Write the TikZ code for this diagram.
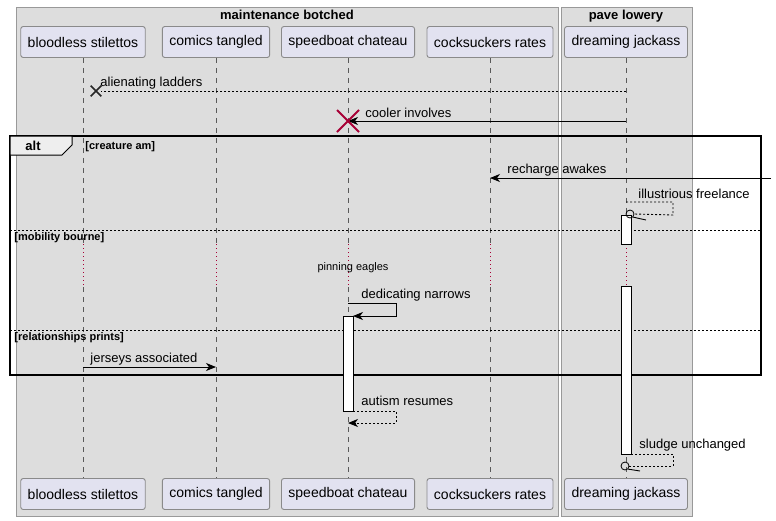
\documentclass[tikz,border=0pt]{standalone}
\usepackage{fontspec}
\setmainfont{Liberation Sans}
\usetikzlibrary{arrows.meta,shapes.misc}
\definecolor{boxfill}{HTML}{DDDDDD}
\definecolor{boxline}{HTML}{999999}
\definecolor{partfill}{HTML}{E2E2F0}
\definecolor{partline}{HTML}{8A8A8A}
\definecolor{tabfill}{HTML}{EEEEEE}
\definecolor{killred}{HTML}{A80036}

\begin{document}
\begin{tikzpicture}[x=1pt,y=-1pt,line width=0.9pt,>={Stealth[length=10pt,width=8pt,inset=3pt]},
	part/.style={draw=partline,fill=partfill,rounded corners=2.5pt,minimum height=31pt,inner xsep=7pt,font=\fontsize{14}{16}\selectfont},
	msg/.style={inner sep=0pt,anchor=base west,font=\fontsize{13}{15}\selectfont},
	grp/.style={inner sep=0pt,anchor=base west,font=\bfseries\fontsize{11}{13}\selectfont},
	ttl/.style={inner sep=0pt,anchor=base,font=\bfseries\fontsize{13}{15}\selectfont},
	life/.style={draw=gray!70!black,dash pattern=on 5pt off 5pt},
	pause/.style={draw=killred,dash pattern=on 1pt off 3pt},
	ret/.style={dash pattern=on 2pt off 2pt},
	bar/.style={draw=black,fill=white}]
			\useasboundingbox (0,0) rectangle (776,520);
			% boxes
			\draw[boxline,fill=boxfill] (16,7) rectangle (558,516);
			\draw[boxline,fill=boxfill] (561,7) rectangle (692,516);
			\node[ttl] (b1) at (287,19) {maintenance botched};
			\node[ttl] (b2) at (626,19) {pave lowery};
			% participants and lifelines
			\foreach \n/\x/\t in {bs/83/bloodless stilettos,ct/216/comics tangled,sc/348/speedboat chateau,cr/490/cocksuckers rates,dj/626/dreaming jackass}{
				\node[part] (\n1) at (\x,42) {\t};
				\node[part] (\n2) at (\x,494) {\t};
				\draw[life] (\n1.south) -- (\n1.south |- 0,244);
				\draw[pause] (\n1.south |- 0,244) -- (\n1.south |- 0,287);
				\draw[life] (\n2.north |- 0,287) -- (\n2.north);
			}
			% alt frame
			\draw[line width=1.5pt] (10,136) rectangle (761,375);
			\draw[line width=1pt,fill=tabfill] (10,136) -- (72,136) -- (72,145) -- (62,155) -- (10,155) -- cycle;
			\node[inner sep=0pt,anchor=base,font=\bfseries\fontsize{13}{15}\selectfont] (alt) at (33,150) {alt};
			\node[grp] (g1) at (85,149) {[creature am]};
			\draw[ret] (10,230) -- (761,230);
			\node[grp] (g2) at (14,240) {[mobility bourne]};
			\draw[ret] (10,330) -- (761,330);
			\node[grp] (g3) at (14,340) {[relationships prints]};
			% activations
			\draw[bar] (621,215) rectangle (631,244);
			\draw[bar] (621,286) rectangle (631,454);
			\draw[bar] (343,316) rectangle (353,411);
			% messages
			\node[cross out,draw=black!85,line width=1.6pt,minimum size=9pt,inner sep=0pt] (x1) at (96,91) {};
			\draw[ret] (dj1 |- x1) -- (x1.east);
			\node[msg] (m1) at (100,86) {alienating ladders};
			\draw[->] (dj1 |- 0,121) -- (sc1 |- 0,121);
			\node[cross out,draw=killred,line width=2pt,minimum size=20pt,inner sep=0pt] (x2) at (348,121) {};
			\node[msg] (m2) at (365,117) {cooler involves};
			\coordinate (edge) at (771,178);
			\draw[->] (edge) -- (cr1 |- edge);
			\node[msg] (m3) at (507,173) {recharge awakes};
			\node[circle,draw,thick,inner sep=0pt,minimum size=8pt] (o1) at (630,214) {};
			\draw[ret] (dj1 |- 0,202) -- (673,202) -- (673,215) -- (o1.east);
			\draw (o1.south east) -- (646,220);
			\node[msg] (m4) at (638,198) {illustrious freelance};
			\node[inner sep=0pt,anchor=base,font=\fontsize{11}{13}\selectfont] (d1) at (353,270) {pinning eagles};
			\draw[->] (sc1 |- 0,303) -- (396,303) -- (396,316) -- (353,316);
			\node[msg] (m5) at (361,298) {dedicating narrows};
			\draw[->] (bs1 |- 0,367) -- (ct1 |- 0,367);
			\node[msg] (m6) at (90,362) {jerseys associated};
			\draw[ret,->] (353,411) -- (396,411) -- (396,423) -- (sc2 |- 0,423);
			\node[msg] (m7) at (361,405) {autism resumes};
			\node[circle,draw,thick,inner sep=0pt,minimum size=8pt] (o2) at (625,466) {};
			\draw[ret] (631,454) -- (673,454) -- (673,466) -- (o2.east);
			\draw (o2.south east) -- (640,471);
			\node[msg] (m8) at (639,448) {sludge unchanged};
		\end{tikzpicture}
\end{document}
